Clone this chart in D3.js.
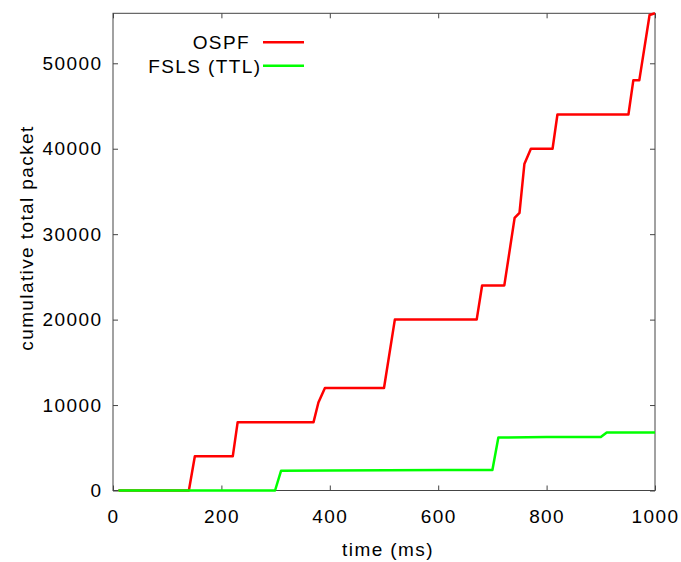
<!DOCTYPE html>
<html>
<head>
<meta charset="utf-8">
<script src="https://cdn.jsdelivr.net/npm/d3@7"></script>
<style>
  body { margin: 0; background: #fff; }
  text { font-family: "Liberation Sans", Arial, sans-serif; font-size: 19px; letter-spacing: 1.4px; fill: #000; }
  .axis line { stroke: #444; }
  .axis .domain { display: none; }
</style>
</head>
<body>
<svg id="chart" width="681" height="562"></svg>
<script>
"use strict"

// values
var ospfTime    = [10, 140, 151, 221, 230, 370, 379, 391, 500, 520, 671, 681, 722, 741, 750, 759, 771, 811, 820, 951, 960, 971, 990, 1000];
var ospfPackets = [0, 0, 4000, 4000, 8000, 8000, 10300, 12000, 12000, 20000, 20000, 24000, 24000, 31900, 32500, 38200, 40000, 40000, 44000, 44000, 48000, 48000, 55650, 55850];

var fslsTime    = [10, 299, 310, 400, 610, 700, 711, 800, 900, 911, 1000];
var fslsPackets = [0, 0, 2300, 2350, 2400, 2400, 6200, 6250, 6250, 6800, 6800];

var xTicks = [0, 200, 400, 600, 800, 1000];
var yTicks = [0, 10000, 20000, 30000, 40000, 50000];

var seriesNames = ["OSPF", "FSLS (TTL)"];
var seriesColors = ["#ff0000", "#00ff00"];

var _chart = {
    margin: { top: 13.3, right: 26, bottom: 71.5, left: 113 }
};
var margin = _chart.margin;

var svg = d3.select("#chart"),
    width = +svg.attr("width") - margin.left - margin.right,
    height = +svg.attr("height") - margin.top - margin.bottom;

_chart.xScale = d3.scaleLinear().domain([0, 1000]).range([0, width]);
_chart.yScale = d3.scaleLinear().domain([0, 55850]).range([height, 0]);

var g = svg.append("g")
    .attr("transform", "translate(" + margin.left + "," + margin.top + ")");

// axes, ticks pointing inward on all four sides
g.append("g")
    .attr("class", "axis")
    .attr("transform", "translate(0," + height + ")")
    .call(d3.axisBottom(_chart.xScale).tickValues(xTicks).tickSize(-5).tickPadding(19.5).tickFormat(d3.format("d")));

g.append("g")
    .attr("class", "axis")
    .call(d3.axisTop(_chart.xScale).tickValues(xTicks).tickSize(-5).tickFormat(""));

g.append("g")
    .attr("class", "axis")
    .call(d3.axisLeft(_chart.yScale).tickValues(yTicks).tickSize(-5).tickPadding(10.6).tickFormat(d3.format("d")));

g.append("g")
    .attr("class", "axis")
    .attr("transform", "translate(" + width + ",0)")
    .call(d3.axisRight(_chart.yScale).tickValues(yTicks).tickSize(-5).tickFormat(""));

g.selectAll(".axis text")
    .style("font-size", "19px")
    .style("font-family", "'Liberation Sans', Arial, sans-serif");

// border
g.append("rect")
    .attr("width", width)
    .attr("height", height)
    .attr("fill", "none")
    .attr("stroke", "#444")
    .attr("stroke-width", 1);

// axis labels
svg.append("text")
    .attr("text-anchor", "middle")
    .attr("x", 388)
    .attr("y", 556)
    .text("time (ms)");

svg.append("text")
    .attr("text-anchor", "middle")
    .attr("transform", "translate(33,238) rotate(-90)")
    .text("cumulative total packet");

_chart.line = d3.line()
    .x(function(d) { return _chart.xScale(d[0]); })
    .y(function(d) { return _chart.yScale(d[1]); });

var series = [
    d3.zip(ospfTime, ospfPackets),
    d3.zip(fslsTime, fslsPackets)
];

series.forEach(function(s, i) {
    g.append("path")
        .datum(s)
        .attr("fill", "none")
        .attr("stroke", seriesColors[i])
        .attr("stroke-width", 2.5)
        .attr("stroke-linejoin", "round")
        .attr("d", _chart.line);
});

// legend
var legend = svg.append("g")
    .attr("transform", "translate(263,42.3)");

seriesNames.forEach(function(name, i) {
    legend.append("line")
        .attr("x1", 0)
        .attr("x2", 41)
        .attr("y1", i * 23.4)
        .attr("y2", i * 23.4)
        .attr("stroke", seriesColors[i])
        .attr("stroke-width", 2.5);
    legend.append("text")
        .attr("text-anchor", "end")
        .attr("x", i === 0 ? -13 : -1.5)
        .attr("y", i * 23.4 + 7)
        .text(name);
});
</script>
</body>
</html>
